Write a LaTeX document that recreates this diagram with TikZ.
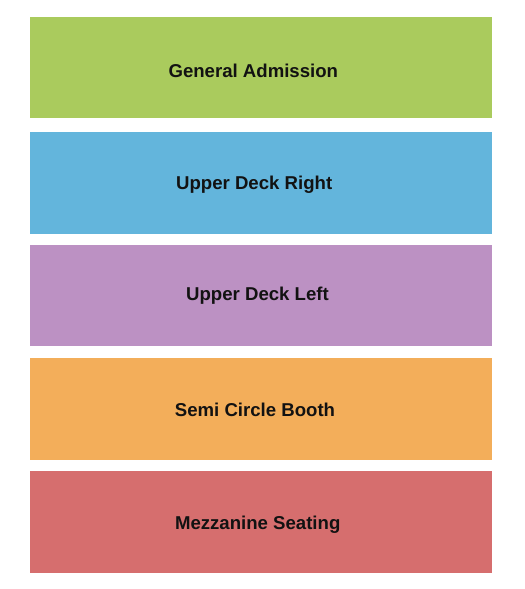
\documentclass[tikz,border=0pt]{standalone}
\usepackage{fontspec}
\setmainfont{Liberation Sans}
\definecolor{cga}{RGB}{170,203,93}
\definecolor{cudr}{RGB}{99,181,220}
\definecolor{cudl}{RGB}{188,145,195}
\definecolor{cscb}{RGB}{243,174,90}
\definecolor{cmez}{RGB}{214,110,110}
\begin{document}
\begin{tikzpicture}[x=1bp,y=1bp,
  section/.style={fill=#1,draw=none,inner sep=0pt,outer sep=0pt,minimum width=462bp,anchor=north west},
  lbl/.style={anchor=base,inner sep=0pt,text=black!93,font=\fontsize{18.6bp}{22bp}\selectfont\bfseries}]
\fill[white] (0,0) rectangle (525,589);
\useasboundingbox (0,0) rectangle (525,589);
\node[section=cga, minimum height=101.5bp] (ga) at (30,572) {};
\node[section=cudr, minimum height=102bp] (udr) at (30,457) {};
\node[section=cudl, minimum height=101.3bp] (udl) at (30,344) {};
\node[section=cscb, minimum height=101.7bp] (scb) at (30,231) {};
\node[section=cmez, minimum height=101.7bp] (mez) at (30,118) {};
\node[lbl] (tga) at (253.3,511.3) {General Admission};
\node[lbl] (tudr) at (254.2,399) {Upper Deck Right};
\node[lbl] (tudl) at (257.5,288.3) {Upper Deck Left};
\node[lbl] (tscb) at (255,172.3) {Semi Circle Booth};
\node[lbl] (tmez) at (257.7,59) {Mezzanine Seating};
\end{tikzpicture}
\end{document}
